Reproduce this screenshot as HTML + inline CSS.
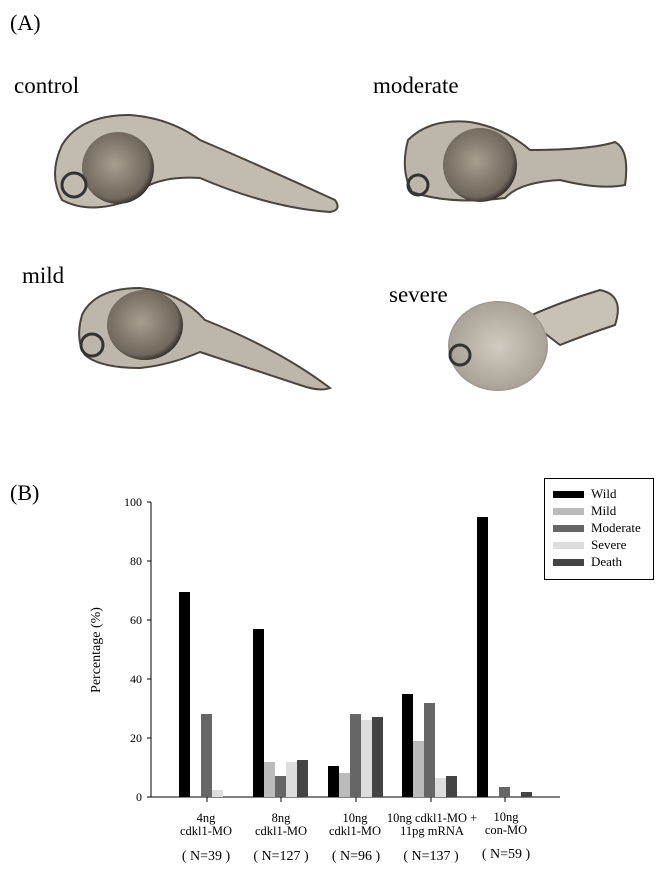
<!DOCTYPE html>
<html><head><style>
body{margin:0;background:#fff;}
svg{display:block;font-family:"Liberation Serif",serif;}
</style></head><body>
<svg width="665" height="871" viewBox="0 0 665 871">
<defs>
<radialGradient id="yk" cx="0.45" cy="0.45" r="0.6"><stop offset="0" stop-color="#a89e90"/><stop offset="0.8" stop-color="#6f675c"/><stop offset="1" stop-color="#1a1715"/></radialGradient>
<radialGradient id="yk2" cx="0.5" cy="0.5" r="0.6"><stop offset="0" stop-color="#d0cbc0"/><stop offset="0.8" stop-color="#aaa397"/><stop offset="1" stop-color="#3a3530"/></radialGradient>
</defs>
<text x="10" y="30" font-size="22">(A)</text>
<text x="14" y="93" font-size="23">control</text>
<text x="373" y="93" font-size="23">moderate</text>
<text x="22" y="283" font-size="23">mild</text>
<text x="389" y="302" font-size="23">severe</text>
<!-- control -->
<path d="M62,145 Q80,115 130,115 Q170,118 200,140 Q270,170 335,200 Q342,210 330,212 Q270,208 200,178 Q150,175 130,200 Q90,215 62,200 Q48,175 62,145Z" fill="#c2bbb0" stroke="#4a443e" stroke-width="2"/>
<circle cx="118" cy="168" r="36" fill="url(#yk)"/>
<circle cx="74" cy="185" r="12" fill="none" stroke="#333" stroke-width="3"/>
<!-- moderate -->
<path d="M408,140 Q430,118 470,122 Q505,128 530,150 Q590,150 615,142 Q630,150 625,185 Q600,190 560,180 Q520,182 505,198 Q450,205 412,192 Q400,170 408,140Z" fill="#bdb6aa" stroke="#4a443e" stroke-width="2"/>
<circle cx="480" cy="165" r="37" fill="url(#yk)"/>
<circle cx="418" cy="185" r="10" fill="none" stroke="#333" stroke-width="3"/>
<!-- mild -->
<path d="M82,315 Q95,288 140,288 Q180,292 205,320 Q280,350 330,388 Q320,392 300,385 Q240,365 200,352 Q170,365 140,368 Q100,368 85,355 Q75,340 82,315Z" fill="#bdb6aa" stroke="#4a443e" stroke-width="2"/>
<ellipse cx="145" cy="325" rx="38" ry="35" fill="url(#yk)"/>
<circle cx="92" cy="345" r="11" fill="none" stroke="#333" stroke-width="3"/>
<!-- severe -->
<path d="M525,318 Q560,302 600,290 Q625,295 615,325 Q585,335 560,345 Z" fill="#c8c1b6" stroke="#4a443e" stroke-width="2"/>
<ellipse cx="498" cy="346" rx="50" ry="45" fill="url(#yk2)"/>
<circle cx="460" cy="355" r="10" fill="none" stroke="#333" stroke-width="3"/>

<text x="10" y="500" font-size="22">(B)</text>
<g stroke="#000" stroke-width="1" fill="none">
<line x1="151" y1="502" x2="151" y2="797"/>
<line x1="151" y1="797" x2="560" y2="797"/>
<line x1="147" y1="502" x2="151" y2="502"/>
<line x1="147" y1="561" x2="151" y2="561"/>
<line x1="147" y1="620" x2="151" y2="620"/>
<line x1="147" y1="679" x2="151" y2="679"/>
<line x1="147" y1="738" x2="151" y2="738"/>
<line x1="147" y1="797" x2="151" y2="797"/>
<line x1="207" y1="797" x2="207" y2="802"/>
<line x1="281" y1="797" x2="281" y2="802"/>
<line x1="356" y1="797" x2="356" y2="802"/>
<line x1="431" y1="797" x2="431" y2="802"/>
<line x1="505" y1="797" x2="505" y2="802"/>
</g>
<g font-size="12" text-anchor="end">
<text x="142" y="506">100</text>
<text x="142" y="565">80</text>
<text x="142" y="624">60</text>
<text x="142" y="683">40</text>
<text x="142" y="742">20</text>
<text x="142" y="801">0</text>
</g>
<text transform="translate(100,650) rotate(-90)" font-size="14" text-anchor="middle">Percentage (%)</text>
<g>
<rect x="179" y="592" width="11" height="205" fill="#000"/>
<rect x="201" y="714" width="11" height="83" fill="#666"/>
<rect x="212" y="790" width="11" height="7" fill="#ddd"/>

<rect x="253" y="629" width="11" height="168" fill="#000"/>
<rect x="264" y="762" width="11" height="35" fill="#bbb"/>
<rect x="275" y="776" width="11" height="21" fill="#666"/>
<rect x="286" y="762" width="11" height="35" fill="#ddd"/>
<rect x="297" y="760" width="11" height="37" fill="#444"/>

<rect x="328" y="766" width="11" height="31" fill="#000"/>
<rect x="339" y="773" width="11" height="24" fill="#bbb"/>
<rect x="350" y="714" width="11" height="83" fill="#666"/>
<rect x="361" y="720" width="11" height="77" fill="#ddd"/>
<rect x="372" y="717" width="11" height="80" fill="#444"/>

<rect x="402" y="694" width="11" height="103" fill="#000"/>
<rect x="413" y="741" width="11" height="56" fill="#bbb"/>
<rect x="424" y="703" width="11" height="94" fill="#666"/>
<rect x="435" y="778" width="11" height="19" fill="#ddd"/>
<rect x="446" y="776" width="11" height="21" fill="#444"/>

<rect x="477" y="517" width="11" height="280" fill="#000"/>
<rect x="499" y="787" width="11" height="10" fill="#666"/>
<rect x="521" y="792" width="11" height="5" fill="#444"/>
</g>
<g font-size="12.5" text-anchor="middle">
<text x="206" y="822">4ng</text><text x="206" y="835">cdkl1-MO</text>
<text x="281" y="822">8ng</text><text x="281" y="835">cdkl1-MO</text>
<text x="355" y="822">10ng</text><text x="355" y="835">cdkl1-MO</text>
<text x="432" y="822">10ng cdkl1-MO +</text><text x="432" y="835">11pg mRNA</text>
<text x="506" y="821">10ng</text><text x="506" y="834">con-MO</text>
</g>
<g font-size="14" text-anchor="middle">
<text x="206" y="860">( N=39 )</text>
<text x="281" y="860">( N=127 )</text>
<text x="356" y="860">( N=96 )</text>
<text x="431" y="860">( N=137 )</text>
<text x="506" y="858">( N=59 )</text>
</g>
<rect x="544.5" y="478.5" width="109" height="101" fill="#fff" stroke="#000"/>
<rect x="553" y="491" width="31" height="7" fill="#000"/>
<rect x="553" y="508" width="31" height="7" fill="#bbb"/>
<rect x="553" y="525" width="31" height="7" fill="#666"/>
<rect x="553" y="542" width="31" height="7" fill="#ddd"/>
<rect x="553" y="559" width="31" height="7" fill="#444"/>
<g font-size="13">
<text x="591" y="498">Wild</text>
<text x="591" y="515">Mild</text>
<text x="591" y="532">Moderate</text>
<text x="591" y="549">Severe</text>
<text x="591" y="566">Death</text>
</g>
</svg>
</body></html>
